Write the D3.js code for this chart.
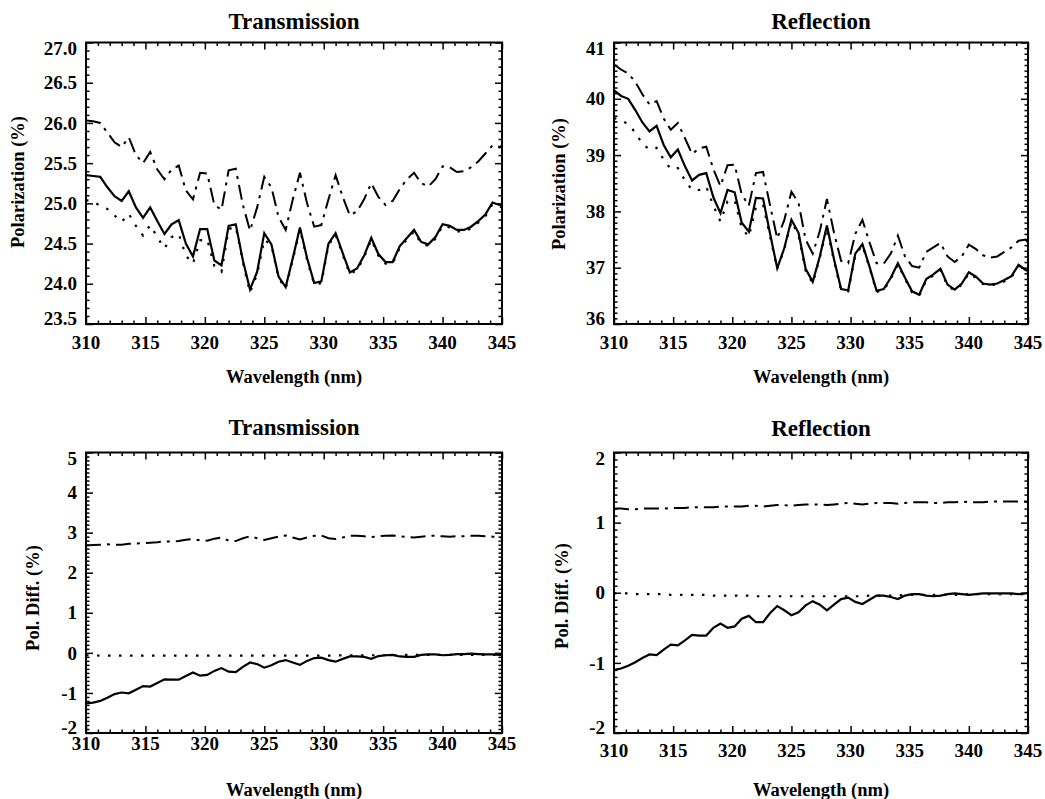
<!DOCTYPE html>
<html>
<head>
<meta charset="utf-8">
<script src="https://cdn.jsdelivr.net/npm/d3@7"></script>
<style>
  body { margin: 0; background: #fff; }
  svg text { font-family: "Liberation Serif", "Times New Roman", serif; font-weight: bold; fill: #000; }
</style>
</head>
<body>
<svg id="chart" width="1045" height="799"></svg>
<script>
// sample wavelengths (nm), shared by every curve
const wavelength = [310.0, 310.6, 311.2, 311.8, 312.4, 313.0, 313.6, 314.2, 314.8, 315.4,
  316.0, 316.6, 317.2, 317.8, 318.4, 319.0, 319.6, 320.2, 320.8, 321.4,
  322.0, 322.6, 323.2, 323.8, 324.4, 325.0, 325.6, 326.2, 326.8, 327.4,
  328.0, 328.6, 329.2, 329.8, 330.4, 331.0, 331.6, 332.2, 332.8, 333.4,
  334.0, 334.6, 335.2, 335.8, 336.4, 337.0, 337.6, 338.2, 338.8, 339.4,
  340.0, 340.6, 341.2, 341.8, 342.4, 343.0, 343.6, 344.2, 344.8, 345.0];

// Transmission, polarization (%)
const transPolSolid = [25.35, 25.34, 25.33, 25.20, 25.09, 25.03, 25.15, 24.95, 24.82, 24.95,
  24.78, 24.62, 24.74, 24.79, 24.50, 24.34, 24.68, 24.68, 24.29, 24.23,
  24.72, 24.74, 24.29, 23.93, 24.15, 24.63, 24.49, 24.09, 23.96, 24.32,
  24.70, 24.32, 24.01, 24.03, 24.50, 24.63, 24.38, 24.14, 24.19, 24.35,
  24.57, 24.37, 24.27, 24.27, 24.47, 24.57, 24.67, 24.52, 24.49, 24.58,
  24.74, 24.72, 24.67, 24.67, 24.71, 24.78, 24.86, 25.01, 24.98, 24.97];
const transPolDashDot = [26.03, 26.02, 26.00, 25.88, 25.76, 25.70, 25.82, 25.60, 25.50, 25.64,
  25.42, 25.30, 25.42, 25.47, 25.16, 25.05, 25.38, 25.37, 24.98, 24.92,
  25.41, 25.43, 24.98, 24.66, 24.95, 25.33, 25.20, 24.83, 24.67, 25.05,
  25.38, 25.00, 24.71, 24.73, 25.05, 25.35, 25.08, 24.85, 24.90, 25.05,
  25.25, 25.08, 24.98, 25.03, 25.18, 25.30, 25.38, 25.25, 25.21, 25.30,
  25.46, 25.45, 25.39, 25.40, 25.45, 25.52, 25.62, 25.72, 25.70, 25.72];
const transPolDotted = [25.04, 25.02, 24.97, 24.93, 24.85, 24.77, 24.87, 24.72, 24.60, 24.73,
  24.58, 24.44, 24.58, 24.62, 24.35, 24.25, 24.54, 24.55, 24.22, 24.15,
  24.68, 24.71, 24.27, 23.89, 24.12, 24.55, 24.48, 24.07, 23.94, 24.30,
  24.68, 24.30, 23.99, 24.01, 24.48, 24.61, 24.36, 24.12, 24.17, 24.33,
  24.55, 24.35, 24.25, 24.25, 24.45, 24.55, 24.65, 24.50, 24.47, 24.56,
  24.72, 24.70, 24.65, 24.65, 24.69, 24.76, 24.84, 24.99, 24.96, 24.95];

// Reflection, polarization (%)
const reflPolSolid = [40.15, 40.05, 40.00, 39.80, 39.58, 39.42, 39.52, 39.18, 38.96, 39.10,
  38.80, 38.55, 38.65, 38.68, 38.25, 37.97, 38.38, 38.34, 37.80, 37.64,
  38.24, 38.23, 37.60, 36.99, 37.35, 37.85, 37.62, 36.98, 36.75, 37.20,
  37.75, 37.15, 36.62, 36.60, 37.25, 37.42, 37.02, 36.59, 36.62, 36.82,
  37.08, 36.82, 36.58, 36.52, 36.80, 36.88, 36.98, 36.70, 36.61, 36.72,
  36.92, 36.84, 36.72, 36.70, 36.72, 36.78, 36.85, 37.05, 36.96, 36.94];
const reflPolDashDot = [40.61, 40.52, 40.45, 40.30, 40.08, 39.90, 39.96, 39.65, 39.45, 39.57,
  39.30, 39.02, 39.12, 39.15, 38.75, 38.45, 38.82, 38.83, 38.30, 38.10,
  38.68, 38.70, 38.10, 37.52, 37.85, 38.35, 38.15, 37.50, 37.25, 37.65,
  38.22, 37.62, 37.12, 37.08, 37.60, 37.85, 37.45, 37.08, 37.07, 37.25,
  37.57, 37.20, 37.03, 37.00, 37.28, 37.36, 37.44, 37.20, 37.10, 37.20,
  37.41, 37.33, 37.22, 37.18, 37.20, 37.28, 37.36, 37.48, 37.50, 37.45];
const reflPolDotted = [39.66, 39.62, 39.55, 39.40, 39.20, 39.10, 39.13, 38.92, 38.75, 38.77,
  38.55, 38.38, 38.38, 38.44, 38.10, 37.82, 38.18, 38.20, 37.70, 37.55,
  38.08, 38.12, 37.55, 36.98, 37.33, 37.82, 37.58, 36.95, 36.72, 37.18,
  37.70, 37.12, 36.60, 36.58, 37.22, 37.40, 37.00, 36.57, 36.60, 36.80,
  37.06, 36.80, 36.56, 36.50, 36.78, 36.86, 36.96, 36.68, 36.59, 36.70,
  36.90, 36.82, 36.71, 36.69, 36.70, 36.76, 36.83, 37.03, 36.95, 36.93];

// Transmission, polarization difference (%)
const transDiffSolid = [-1.26, -1.24, -1.20, -1.12, -1.03, -0.99, -1.01, -0.92, -0.83, -0.84,
  -0.75, -0.66, -0.67, -0.67, -0.58, -0.49, -0.57, -0.55, -0.45, -0.38,
  -0.47, -0.48, -0.35, -0.24, -0.28, -0.37, -0.31, -0.22, -0.18, -0.24,
  -0.30, -0.20, -0.13, -0.12, -0.18, -0.22, -0.15, -0.09, -0.09, -0.10,
  -0.15, -0.08, -0.06, -0.05, -0.09, -0.10, -0.10, -0.05, -0.04, -0.04,
  -0.06, -0.05, -0.03, -0.03, -0.02, -0.03, -0.04, -0.04, -0.05, -0.05];
const transDiffDashDot = [2.68, 2.69, 2.70, 2.71, 2.70, 2.70, 2.72, 2.73, 2.74, 2.75,
  2.76, 2.78, 2.78, 2.79, 2.82, 2.84, 2.81, 2.80, 2.85, 2.88,
  2.80, 2.79, 2.86, 2.91, 2.86, 2.82, 2.86, 2.90, 2.93, 2.88,
  2.83, 2.88, 2.92, 2.93, 2.86, 2.84, 2.88, 2.92, 2.92, 2.91,
  2.89, 2.91, 2.92, 2.93, 2.91, 2.89, 2.88, 2.90, 2.92, 2.92,
  2.91, 2.90, 2.91, 2.91, 2.92, 2.92, 2.91, 2.90, 2.88, 2.87];
const transDiffDotted = [-0.06, -0.06, -0.07, -0.07, -0.07, -0.07, -0.07, -0.07, -0.07, -0.07,
  -0.07, -0.07, -0.07, -0.07, -0.07, -0.07, -0.07, -0.07, -0.07, -0.07,
  -0.07, -0.07, -0.07, -0.07, -0.07, -0.07, -0.07, -0.07, -0.07, -0.07,
  -0.07, -0.07, -0.07, -0.07, -0.07, -0.07, -0.06, -0.06, -0.06, -0.06,
  -0.06, -0.06, -0.06, -0.06, -0.06, -0.05, -0.05, -0.05, -0.05, -0.05,
  -0.05, -0.05, -0.05, -0.05, -0.05, -0.05, -0.05, -0.05, -0.05, -0.05];

// Reflection, polarization difference (%)
const reflDiffSolid = [-1.10, -1.08, -1.04, -0.99, -0.93, -0.88, -0.89, -0.81, -0.74, -0.75,
  -0.68, -0.60, -0.61, -0.61, -0.50, -0.44, -0.50, -0.48, -0.37, -0.33,
  -0.42, -0.42, -0.29, -0.19, -0.25, -0.32, -0.28, -0.18, -0.12, -0.17,
  -0.25, -0.17, -0.09, -0.07, -0.13, -0.16, -0.10, -0.04, -0.04, -0.06,
  -0.09, -0.04, -0.02, -0.02, -0.04, -0.05, -0.04, -0.02, -0.01, -0.02,
  -0.03, -0.02, -0.01, -0.01, -0.01, -0.01, -0.01, -0.02, -0.01, 0.00];
const reflDiffDashDot = [1.20, 1.20, 1.19, 1.19, 1.20, 1.20, 1.20, 1.20, 1.21, 1.21,
  1.21, 1.22, 1.22, 1.22, 1.22, 1.23, 1.23, 1.23, 1.23, 1.24,
  1.24, 1.23, 1.24, 1.25, 1.25, 1.24, 1.25, 1.26, 1.26, 1.26,
  1.25, 1.26, 1.27, 1.28, 1.27, 1.26, 1.27, 1.28, 1.28, 1.28,
  1.27, 1.28, 1.29, 1.29, 1.29, 1.28, 1.28, 1.29, 1.29, 1.30,
  1.29, 1.29, 1.29, 1.30, 1.30, 1.30, 1.30, 1.30, 1.30, 1.30];
const reflDiffDotted = [-0.01, -0.01, -0.01, -0.02, -0.02, -0.02, -0.02, -0.02, -0.03, -0.03,
  -0.03, -0.03, -0.03, -0.03, -0.04, -0.04, -0.04, -0.04, -0.04, -0.04,
  -0.05, -0.05, -0.05, -0.05, -0.05, -0.05, -0.05, -0.05, -0.05, -0.05,
  -0.05, -0.05, -0.05, -0.05, -0.05, -0.05, -0.04, -0.04, -0.04, -0.04,
  -0.04, -0.03, -0.03, -0.03, -0.03, -0.03, -0.03, -0.03, -0.03, -0.03,
  -0.02, -0.02, -0.02, -0.02, -0.02, -0.02, -0.02, -0.02, -0.02, -0.02];

// tick labels
const xTicks = [310, 315, 320, 325, 330, 335, 340, 345];
const transPolTicks = [23.5, 24.0, 24.5, 25.0, 25.5, 26.0, 26.5, 27.0];
const reflPolTicks = [36, 37, 38, 39, 40, 41];
const transDiffTicks = [-2, -1, 0, 1, 2, 3, 4, 5];
const reflDiffTicks = [-2, -1, 0, 1, 2];

const svg = d3.select("#chart");

let panels = [
  { title: "Transmission", yLabel: "Polarization (%)", left: 86, right: 502, top: 42.5, bottom: 324,
    yTicks: transPolTicks, fmt: d => d.toFixed(1), solid: transPolSolid, dashDot: transPolDashDot, dotted: transPolDotted,
    titleY: 29, tickY: 349, xLabelY: 383, yLabelX: 24, yLabelY: 182 },
  { title: "Reflection", yLabel: "Polarization (%)", left: 614, right: 1028, top: 42.5, bottom: 324,
    yTicks: reflPolTicks, fmt: d => String(d), solid: reflPolSolid, dashDot: reflPolDashDot, dotted: reflPolDotted,
    titleY: 29, tickY: 349, xLabelY: 383, yLabelX: 565, yLabelY: 184 },
  { title: "Transmission", yLabel: "Pol. Diff. (%)", left: 86, right: 502, top: 452.5, bottom: 733,
    yTicks: transDiffTicks, fmt: d => String(d), solid: transDiffSolid, dashDot: transDiffDashDot, dotted: transDiffDotted,
    titleY: 435, tickY: 750, xLabelY: 796, yLabelX: 39, yLabelY: 598 },
  { title: "Reflection", yLabel: "Pol. Diff. (%)", left: 614, right: 1028, top: 452.5, bottom: 733,
    yTicks: reflDiffTicks, fmt: d => String(d), solid: reflDiffSolid, dashDot: reflDiffDashDot, dotted: reflDiffDotted,
    titleY: 436, tickY: 757, xLabelY: 796, yLabelX: 568, yLabelY: 596 }
];

// ticks pointing into the box, no labels (labels are drawn by hand below)
function tickAxis(g, axis, transform, values, size) {
  g.append("g")
    .attr("transform", transform)
    .call(axis.tickValues(values).tickSize(-size).tickFormat(""))
    .call(a => a.select(".domain").remove())
    .selectAll("line").attr("stroke", "#000").attr("stroke-width", 1.5);
}

panels.forEach((p, pi) => {
  let x = d3.scaleLinear().domain([310, 345]).range([p.left, p.right]);
  let yDomain = d3.extent(p.yTicks);
  let y = d3.scaleLinear().domain(yDomain).range([p.bottom, p.top]);
  let g = svg.append("g");

  let xMinor = d3.range(310, 346, 1).filter(v => v % 5 !== 0);
  let yMinor = d3.range(Math.round(yDomain[0] * 10), Math.round(yDomain[1] * 10) + 1)
      .map(v => v / 10)
      .filter(v => !p.yTicks.some(t => Math.abs(t - v) < 1e-6));

  tickAxis(g, d3.axisBottom(x), `translate(0,${p.bottom})`, xTicks, 7);
  tickAxis(g, d3.axisBottom(x), `translate(0,${p.bottom})`, xMinor, 3.5);
  tickAxis(g, d3.axisTop(x), `translate(0,${p.top})`, xTicks, 7);
  tickAxis(g, d3.axisTop(x), `translate(0,${p.top})`, xMinor, 3.5);
  tickAxis(g, d3.axisLeft(y), `translate(${p.left},0)`, p.yTicks, 7);
  tickAxis(g, d3.axisLeft(y), `translate(${p.left},0)`, yMinor, 3.5);
  tickAxis(g, d3.axisRight(y), `translate(${p.right},0)`, p.yTicks, 7);
  tickAxis(g, d3.axisRight(y), `translate(${p.right},0)`, yMinor, 3.5);

  // frame
  g.append("rect")
    .attr("x", p.left).attr("y", p.top)
    .attr("width", p.right - p.left).attr("height", p.bottom - p.top)
    .attr("fill", "none").attr("stroke", "#000").attr("stroke-width", 2);

  // curves
  g.append("clipPath").attr("id", "clip" + pi)
    .append("rect")
    .attr("x", p.left).attr("y", p.top)
    .attr("width", p.right - p.left).attr("height", p.bottom - p.top);

  let line = d3.line()
      .x((d, i) => x(wavelength[i]))
      .y(d => y(d));

  let curves = [
    { values: p.dotted, dash: "2.5,8.5", width: 2.2 },
    { values: p.dashDot, dash: "15,6,3,6", width: 2 },
    { values: p.solid, dash: null, width: 2.2 }
  ];
  g.append("g").attr("clip-path", `url(#clip${pi})`)
    .selectAll("path")
    .data(curves)
    .enter().append("path")
    .attr("d", d => line(d.values))
    .attr("fill", "none")
    .attr("stroke", "#000")
    .attr("stroke-width", d => d.width)
    .attr("stroke-dasharray", d => d.dash);

  // x tick labels
  g.selectAll(".xlab")
    .data(xTicks)
    .enter().append("text")
    .attr("class", "xlab")
    .attr("x", d => x(d))
    .attr("y", p.tickY)
    .attr("text-anchor", "middle")
    .attr("font-size", 19)
    .text(d => d);

  // y tick labels, end labels kept inside the box height
  g.selectAll(".ylab")
    .data(p.yTicks)
    .enter().append("text")
    .attr("class", "ylab")
    .attr("x", p.left - 9)
    .attr("y", d => Math.min(Math.max(y(d), p.top + 6), p.bottom - 6))
    .attr("dy", "0.35em")
    .attr("text-anchor", "end")
    .attr("font-size", 19)
    .text(p.fmt);

  // titles
  g.append("text")
    .attr("x", (p.left + p.right) / 2)
    .attr("y", p.titleY)
    .attr("text-anchor", "middle")
    .attr("font-size", 23)
    .text(p.title);

  g.append("text")
    .attr("x", (p.left + p.right) / 2)
    .attr("y", p.xLabelY)
    .attr("text-anchor", "middle")
    .attr("font-size", 18.5)
    .text("Wavelength (nm)");

  g.append("text")
    .attr("transform", `translate(${p.yLabelX},${p.yLabelY}) rotate(-90)`)
    .attr("text-anchor", "middle")
    .attr("font-size", 18.5)
    .text(p.yLabel);
});
</script>
</body>
</html>
